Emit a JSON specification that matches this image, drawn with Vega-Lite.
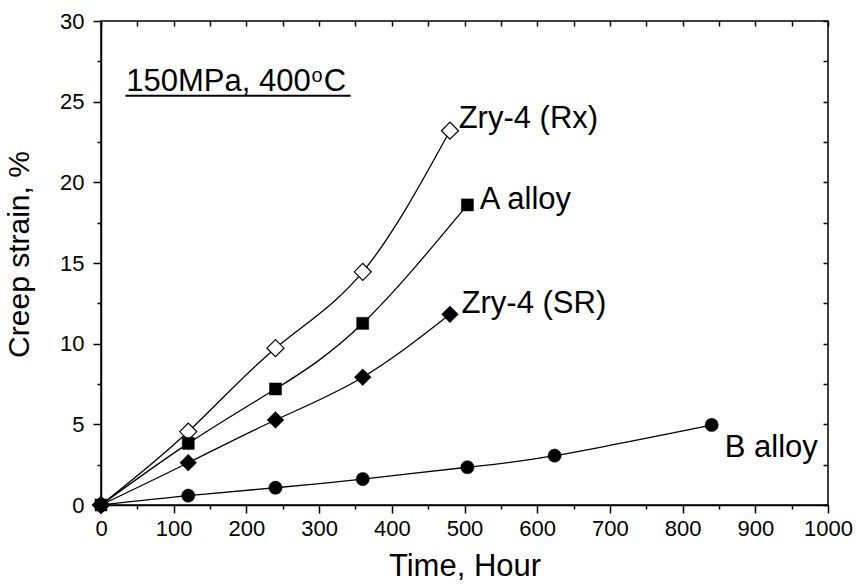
{
  "$schema": "https://vega.github.io/schema/vega-lite/v6.json",
  "width": 727,
  "height": 484,
  "autosize": "none",
  "padding": {"left": 101, "top": 21, "right": 30, "bottom": 82},
  "config": {
    "font": "Liberation Sans",
    "view": {"stroke": "black", "strokeWidth": 1.5},
    "axis": {
      "grid": false,
      "domainColor": "black",
      "domainWidth": 1.5,
      "tickColor": "black",
      "tickWidth": 1.5,
      "labelColor": "black",
      "titleColor": "black",
      "labelFont": "Liberation Sans",
      "titleFont": "Liberation Sans",
      "titleFontWeight": "normal"
    }
  },
  "datasets": {
    "pts": [
      {"series": "Zry-4 (Rx)", "t": 0, "strain": 0},
      {"series": "Zry-4 (Rx)", "t": 120, "strain": 4.55},
      {"series": "Zry-4 (Rx)", "t": 240, "strain": 9.72},
      {"series": "Zry-4 (Rx)", "t": 360, "strain": 14.45},
      {"series": "Zry-4 (Rx)", "t": 480, "strain": 23.2},
      {"series": "A alloy", "t": 0, "strain": 0},
      {"series": "A alloy", "t": 120, "strain": 3.82},
      {"series": "A alloy", "t": 240, "strain": 7.19},
      {"series": "A alloy", "t": 360, "strain": 11.26},
      {"series": "A alloy", "t": 504, "strain": 18.6},
      {"series": "Zry-4 (SR)", "t": 0, "strain": 0},
      {"series": "Zry-4 (SR)", "t": 120, "strain": 2.62},
      {"series": "Zry-4 (SR)", "t": 240, "strain": 5.27},
      {"series": "Zry-4 (SR)", "t": 360, "strain": 7.92},
      {"series": "Zry-4 (SR)", "t": 480, "strain": 11.82},
      {"series": "B alloy", "t": 0, "strain": 0},
      {"series": "B alloy", "t": 120, "strain": 0.58},
      {"series": "B alloy", "t": 240, "strain": 1.07},
      {"series": "B alloy", "t": 360, "strain": 1.61},
      {"series": "B alloy", "t": 504, "strain": 2.34},
      {"series": "B alloy", "t": 624, "strain": 3.06},
      {"series": "B alloy", "t": 840, "strain": 4.96}
    ],
    "labels": [
      {"label": "Zry-4 (Rx)", "t": 492, "strain": 23.37},
      {"label": "A alloy", "t": 521, "strain": 18.35},
      {"label": "Zry-4 (SR)", "t": 496, "strain": 11.9},
      {"label": "B alloy", "t": 858, "strain": 2.98},
      {"label": "150MPa, 400", "t": 34.7, "strain": 25.69},
      {"label": "C", "t": 306.3, "strain": 25.69}
    ],
    "sup": [
      {"label": "o", "t": 289.7, "strain": 26.22}
    ],
    "underline": [
      {"t": 33.7, "t2": 343.4, "strain": 25.37}
    ]
  },
  "layer": [
    {
      "data": {"name": "pts"},
      "mark": {"type": "line", "interpolate": "natural", "color": "black", "strokeWidth": 1.3},
      "encoding": {
        "x": {
          "field": "t", "type": "quantitative",
          "scale": {"domain": [0, 1000], "nice": false, "zero": false},
          "axis": {
            "orient": "bottom",
            "values": [0, 100, 200, 300, 400, 500, 600, 700, 800, 900, 1000],
            "format": "d",
            "tickSize": 8, "labelFontSize": 22, "labelPadding": 5, "labelFlush": false,
            "title": "Time, Hour", "titleFontSize": 31, "titlePadding": 12
          }
        },
        "y": {
          "field": "strain", "type": "quantitative",
          "scale": {"domain": [0, 30], "nice": false, "zero": false},
          "axis": {
            "orient": "left",
            "values": [0, 5, 10, 15, 20, 25, 30],
            "tickSize": 8, "labelFontSize": 22, "labelPadding": 9, "labelFlush": false,
            "title": "Creep strain, %", "titleFontSize": 30, "titlePadding": 25, "titleY": 233
          }
        },
        "detail": {"field": "series"}
      }
    },
    {
      "data": {"name": "pts"},
      "transform": [{"filter": "datum.series === 'Zry-4 (Rx)'"}],
      "mark": {"type": "point", "shape": "diamond", "size": 290, "filled": true, "fill": "white", "stroke": "black", "strokeWidth": 1.2, "opacity": 1},
      "encoding": {
        "x": {
          "field": "t", "type": "quantitative",
          "axis": {"orient": "bottom", "values": [50, 150, 250, 350, 450, 550, 650, 750, 850, 950], "tickSize": 4, "labels": false, "domain": false, "title": null}
        },
        "y": {
          "field": "strain", "type": "quantitative",
          "axis": {"orient": "left", "values": [2.5, 7.5, 12.5, 17.5, 22.5, 27.5], "tickSize": 4, "labels": false, "domain": false, "title": null}
        }
      }
    },
    {
      "data": {"name": "pts"},
      "transform": [{"filter": "datum.series === 'A alloy'"}],
      "mark": {"type": "point", "shape": "square", "size": 145, "filled": true, "fill": "black", "stroke": "black", "strokeWidth": 0.5, "opacity": 1},
      "encoding": {
        "x": {"field": "t", "type": "quantitative", "axis": null},
        "y": {"field": "strain", "type": "quantitative", "axis": null}
      }
    },
    {
      "data": {"name": "pts"},
      "transform": [{"filter": "datum.series === 'Zry-4 (SR)'"}],
      "mark": {"type": "point", "shape": "diamond", "size": 280, "filled": true, "fill": "black", "stroke": "black", "strokeWidth": 0.5, "opacity": 1},
      "encoding": {
        "x": {"field": "t", "type": "quantitative", "axis": null},
        "y": {"field": "strain", "type": "quantitative", "axis": null}
      }
    },
    {
      "data": {"name": "pts"},
      "transform": [{"filter": "datum.series === 'B alloy'"}],
      "mark": {"type": "point", "shape": "circle", "size": 175, "filled": true, "fill": "black", "stroke": "black", "strokeWidth": 0.5, "opacity": 1},
      "encoding": {
        "x": {"field": "t", "type": "quantitative", "axis": null},
        "y": {"field": "strain", "type": "quantitative", "axis": null}
      }
    },
    {
      "data": {"name": "labels"},
      "mark": {"type": "text", "align": "left", "baseline": "alphabetic", "fontSize": 31, "color": "black", "font": "Liberation Sans"},
      "encoding": {
        "x": {
          "field": "t", "type": "quantitative",
          "axis": {"orient": "top", "values": [0, 50, 100, 150, 200, 250, 300, 350, 400, 450, 500, 550, 600, 650, 700, 750, 800, 850, 900, 950, 1000], "tickSize": -5, "labels": false, "domain": false, "title": null}
        },
        "y": {
          "field": "strain", "type": "quantitative",
          "axis": {"orient": "right", "values": [0, 2.5, 5, 7.5, 10, 12.5, 15, 17.5, 20, 22.5, 25, 27.5, 30], "tickSize": -5, "labels": false, "domain": false, "title": null}
        },
        "text": {"field": "label"}
      }
    },
    {
      "data": {"name": "sup"},
      "mark": {"type": "text", "align": "left", "baseline": "alphabetic", "fontSize": 20, "color": "black", "font": "Liberation Sans"},
      "encoding": {
        "x": {"field": "t", "type": "quantitative", "axis": null},
        "y": {"field": "strain", "type": "quantitative", "axis": null},
        "text": {"field": "label"}
      }
    },
    {
      "data": {"name": "underline"},
      "mark": {"type": "rule", "color": "black", "strokeWidth": 2},
      "encoding": {
        "x": {"field": "t", "type": "quantitative", "axis": null},
        "x2": {"field": "t2"},
        "y": {"field": "strain", "type": "quantitative", "axis": null}
      }
    }
  ],
  "resolve": {"axis": {"x": "independent", "y": "independent"}}
}
